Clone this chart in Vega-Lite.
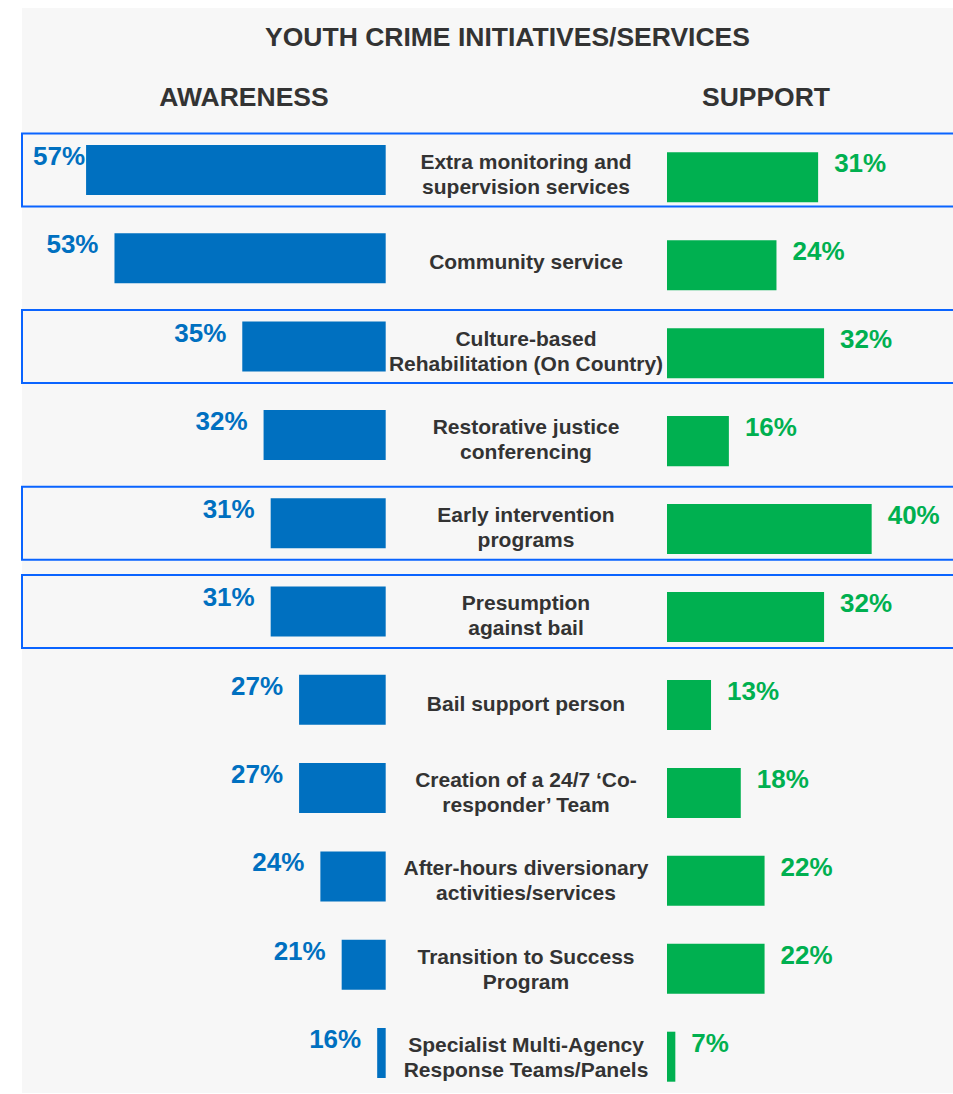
{
  "$schema": "https://vega.github.io/schema/vega-lite/v6.json",
  "width": 931,
  "height": 1085,
  "autosize": {"type": "none"},
  "padding": {"left": 22, "top": 8, "right": 0, "bottom": 1},
  "background": "white",
  "config": {
    "view": {"fill": "#f7f7f7", "stroke": null},
    "font": "Liberation Sans",
    "text": {"font": "Liberation Sans"}
  },
  "data": {
    "values": [
      {"initiative": "Extra monitoring and\nsupervision services", "awareness": 0.57, "support": 0.31, "highlight": true},
      {"initiative": "Community service", "awareness": 0.53, "support": 0.24, "highlight": false},
      {"initiative": "Culture-based\nRehabilitation (On Country)", "awareness": 0.35, "support": 0.32, "highlight": true},
      {"initiative": "Restorative justice\nconferencing", "awareness": 0.32, "support": 0.16, "highlight": false},
      {"initiative": "Early intervention\nprograms", "awareness": 0.31, "support": 0.40, "highlight": true},
      {"initiative": "Presumption\nagainst bail", "awareness": 0.31, "support": 0.32, "highlight": true},
      {"initiative": "Bail support person", "awareness": 0.27, "support": 0.13, "highlight": false},
      {"initiative": "Creation of a 24/7 ‘Co-\nresponder’ Team", "awareness": 0.27, "support": 0.18, "highlight": false},
      {"initiative": "After-hours diversionary\nactivities/services", "awareness": 0.24, "support": 0.22, "highlight": false},
      {"initiative": "Transition to Success\nProgram", "awareness": 0.21, "support": 0.22, "highlight": false},
      {"initiative": "Specialist Multi-Agency\nResponse Teams/Panels", "awareness": 0.16, "support": 0.07, "highlight": false}
    ]
  },
  "resolve": {
    "scale": {"x": "independent", "y": "independent"},
    "axis": {"x": "independent", "y": "independent"}
  },
  "layer": [
    {
      "mark": {"type": "bar", "height": 73, "filled": false, "color": "#0a64ff", "strokeWidth": 2},
      "encoding": {
        "y": {"field": "initiative", "type": "nominal", "sort": null, "axis": null,
              "scale": {"type": "band", "paddingInner": 0.4337, "paddingOuter": 0.8607, "align": 0.9013}},
        "x": {"datum": 0, "type": "quantitative",
              "scale": {"domain": [0, 1], "nice": false, "zero": false},
              "axis": {"orient": "top", "title": "YOUTH CRIME INITIATIVES/SERVICES", "labels": false, "ticks": false, "domain": false, "grid": false,
                       "titleX": 485, "titleY": 37, "titleFontSize": 26.5, "titleFont": "Liberation Sans", "titleFontWeight": "bold",
                       "titleColor": "#333333", "titleBaseline": "alphabetic", "titleAlign": "center", "titlePadding": 0, "minExtent": 0, "maxExtent": 0}},
        "x2": {"datum": 1.01},
        "strokeOpacity": {"condition": {"test": "datum.highlight", "value": 1}, "value": 0}
      }
    },
    {
      "mark": {"type": "bar", "color": "#0070c0"},
      "encoding": {
        "y": {"field": "initiative", "type": "nominal", "sort": null, "axis": null,
              "scale": {"type": "band", "paddingInner": 0.4337, "paddingOuter": 0.8607, "align": 0.9013}},
        "x": {"field": "awareness", "type": "quantitative",
              "scale": {"domain": [-0.65102, 0.66025], "reverse": true, "nice": false, "zero": false},
              "axis": {"orient": "top", "title": "AWARENESS", "labels": false, "ticks": false, "domain": false, "grid": false,
                       "titleX": 221.5, "titleY": 97, "titleFontSize": 26.5, "titleFont": "Liberation Sans", "titleFontWeight": "bold",
                       "titleColor": "#333333", "titleBaseline": "alphabetic", "titleAlign": "center", "titlePadding": 0, "minExtent": 0, "maxExtent": 0}},
        "x2": {"datum": 0.148}
      }
    },
    {
      "mark": {"type": "text", "align": "right", "baseline": "middle", "dx": -16, "dy": -13, "fontSize": 26, "fontWeight": "bold", "color": "#0070c0"},
      "encoding": {
        "y": {"field": "initiative", "type": "nominal", "sort": null, "axis": null,
              "scale": {"type": "band", "paddingInner": 0.4337, "paddingOuter": 0.8607, "align": 0.9013}},
        "x": {"field": "awareness", "type": "quantitative",
              "scale": {"domain": [-0.65102, 0.66025], "reverse": true, "nice": false, "zero": false},
              "axis": null},
        "text": {"condition": {"test": "datum.awareness <= 0.55", "field": "awareness", "type": "quantitative", "format": ".0%"}, "value": ""}
      }
    },
    {
      "mark": {"type": "text", "align": "right", "baseline": "middle", "dx": -1, "dy": -13, "fontSize": 26, "fontWeight": "bold", "color": "#0070c0"},
      "encoding": {
        "y": {"field": "initiative", "type": "nominal", "sort": null, "axis": null,
              "scale": {"type": "band", "paddingInner": 0.4337, "paddingOuter": 0.8607, "align": 0.9013}},
        "x": {"field": "awareness", "type": "quantitative",
              "scale": {"domain": [-0.65102, 0.66025], "reverse": true, "nice": false, "zero": false},
              "axis": null},
        "text": {"condition": {"test": "datum.awareness > 0.55", "field": "awareness", "type": "quantitative", "format": ".0%"}, "value": ""}
      }
    },
    {
      "mark": {"type": "text", "align": "center", "baseline": "middle", "dx": 38.5, "dy": -7, "fontSize": 21, "fontWeight": "bold", "color": "#333333", "lineBreak": "\n", "lineHeight": 25},
      "encoding": {
        "y": {"field": "initiative", "type": "nominal", "sort": null, "axis": null,
              "scale": {"type": "band", "paddingInner": 0.4337, "paddingOuter": 0.8607, "align": 0.9013}},
        "text": {"condition": {"test": "indexof(datum.initiative, '\\n') >= 0", "field": "initiative", "type": "nominal"}, "value": ""}
      }
    },
    {
      "mark": {"type": "text", "align": "center", "baseline": "middle", "dx": 38.5, "dy": 5, "fontSize": 21, "fontWeight": "bold", "color": "#333333", "lineBreak": "\n", "lineHeight": 25},
      "encoding": {
        "y": {"field": "initiative", "type": "nominal", "sort": null, "axis": null,
              "scale": {"type": "band", "paddingInner": 0.4337, "paddingOuter": 0.8607, "align": 0.9013}},
        "text": {"condition": {"test": "indexof(datum.initiative, '\\n') < 0", "field": "initiative", "type": "nominal"}, "value": ""}
      }
    },
    {
      "mark": {"type": "bar", "color": "#00b050"},
      "encoding": {
        "y": {"field": "initiative", "type": "nominal", "sort": null, "axis": null,
              "scale": {"type": "band", "paddingInner": 0.4314, "paddingOuter": 0.8847, "align": 0.9274}},
        "x": {"field": "support", "type": "quantitative",
              "scale": {"domain": [-1.02803, 0.53668], "nice": false, "zero": false},
              "axis": {"orient": "top", "title": "SUPPORT", "labels": false, "ticks": false, "domain": false, "grid": false,
                       "titleX": 743.5, "titleY": 97, "titleFontSize": 26.5, "titleFont": "Liberation Sans", "titleFontWeight": "bold",
                       "titleColor": "#333333", "titleBaseline": "alphabetic", "titleAlign": "center", "titlePadding": 0, "minExtent": 0, "maxExtent": 0}},
        "x2": {"datum": 0.056}
      }
    },
    {
      "mark": {"type": "text", "align": "left", "baseline": "middle", "dx": 16, "dy": -13, "fontSize": 26, "fontWeight": "bold", "color": "#00b050"},
      "encoding": {
        "y": {"field": "initiative", "type": "nominal", "sort": null, "axis": null,
              "scale": {"type": "band", "paddingInner": 0.4314, "paddingOuter": 0.8847, "align": 0.9274}},
        "x": {"field": "support", "type": "quantitative",
              "scale": {"domain": [-1.02803, 0.53668], "nice": false, "zero": false},
              "axis": null},
        "text": {"field": "support", "type": "quantitative", "format": ".0%"}
      }
    }
  ]
}
